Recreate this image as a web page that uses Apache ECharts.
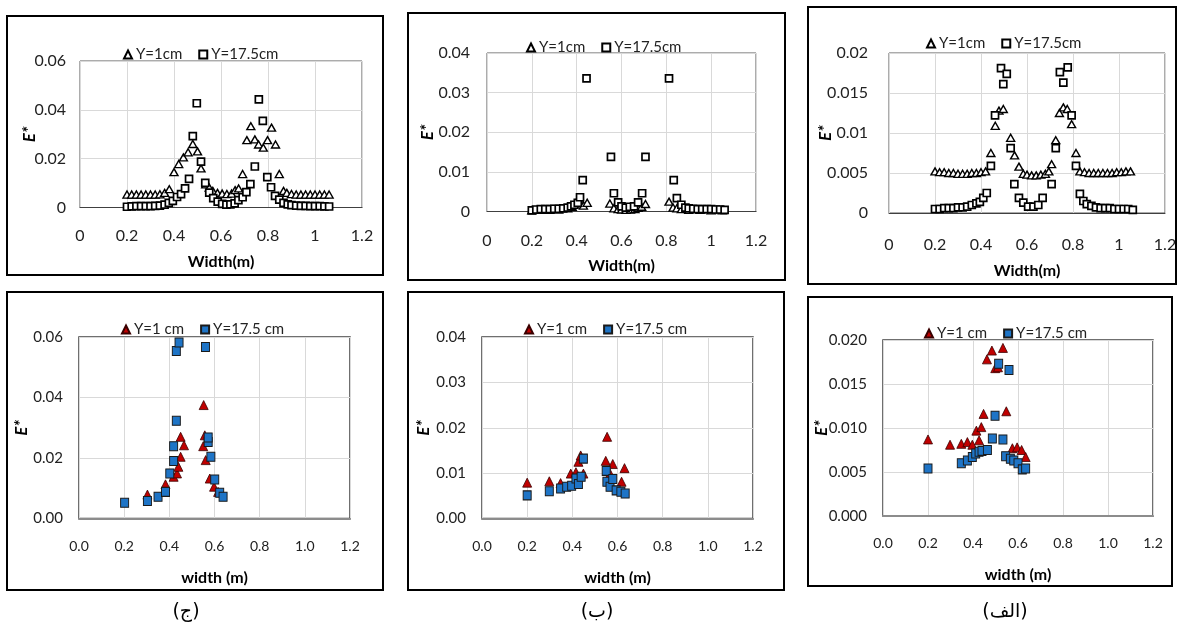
<!DOCTYPE html>
<html><head><meta charset="utf-8">
<script src="https://cdn.jsdelivr.net/npm/echarts@6/dist/echarts.min.js"></script>
<style>html,body{margin:0;padding:0;background:#fff}#c{width:1181px;height:632px}</style>
</head><body><div id="c"></div>
<script>
// ---------- tick labels ----------
const topXTicks = ['0','0.2','0.4','0.6','0.8','1','1.2'];
const botXTicks = ['0.0','0.2','0.4','0.6','0.8','1.0','1.2'];
const yTicksJTop = ['0','0.02','0.04','0.06'];
const yTicksBTop = ['0','0.01','0.02','0.03','0.04'];
const yTicksATop = ['0','0.005','0.01','0.015','0.02'];
const yTicksJBot = ['0.00','0.02','0.04','0.06'];
const yTicksBBot = ['0.00','0.01','0.02','0.03','0.04'];
const yTicksABot = ['0.000','0.005','0.010','0.015','0.020'];
const captions = ['(ج)','(ب)','(الف)'];

// ---------- data: [width (m), E*] ----------
const jTopY1 = [[0.20,0.0053],[0.22,0.0053],[0.24,0.0053],[0.26,0.0053],[0.28,0.0053],[0.30,0.0053],[0.32,0.0053],[0.34,0.0054],[0.36,0.006],[0.38,0.0075],[0.40,0.0145],[0.42,0.0178],[0.44,0.0205],[0.46,0.0226],[0.48,0.026],[0.50,0.023],[0.515,0.016],[0.535,0.0095],[0.55,0.0082],[0.565,0.0068],[0.585,0.006],[0.605,0.0057],[0.625,0.0055],[0.645,0.0057],[0.66,0.0071],[0.675,0.0078],[0.692,0.0137],[0.71,0.0276],[0.727,0.0333],[0.744,0.0279],[0.76,0.0258],[0.78,0.0245],[0.798,0.0276],[0.815,0.0327],[0.832,0.0258],[0.848,0.0137],[0.866,0.0068],[0.88,0.006],[0.90,0.0055],[0.92,0.0053],[0.94,0.0053],[0.96,0.0053],[0.98,0.0053],[1.00,0.0053],[1.02,0.0053],[1.04,0.0053],[1.06,0.0053]];
const jTopY17 = [[0.20,0.0003],[0.22,0.0005],[0.24,0.0006],[0.26,0.0006],[0.28,0.0006],[0.30,0.0006],[0.32,0.0007],[0.34,0.0008],[0.36,0.0012],[0.378,0.0019],[0.395,0.0027],[0.413,0.0043],[0.43,0.0055],[0.447,0.0078],[0.464,0.0117],[0.48,0.0292],[0.497,0.0427],[0.515,0.0188],[0.533,0.0101],[0.55,0.0061],[0.567,0.0038],[0.586,0.0024],[0.605,0.0015],[0.623,0.0012],[0.64,0.0013],[0.658,0.0017],[0.674,0.003],[0.692,0.0042],[0.708,0.0063],[0.725,0.0096],[0.744,0.0168],[0.761,0.0443],[0.778,0.0355],[0.797,0.0124],[0.813,0.0083],[0.83,0.0048],[0.848,0.0032],[0.866,0.0019],[0.884,0.0013],[0.90,0.001],[0.92,0.0008],[0.94,0.0007],[0.96,0.0007],[0.98,0.0006],[1.00,0.0006],[1.02,0.0006],[1.04,0.0005],[1.06,0.0004]];

const bTopY1 = [[0.20,0.0003],[0.24,0.0004],[0.28,0.0004],[0.32,0.0005],[0.36,0.0008],[0.38,0.0012],[0.397,0.0021],[0.415,0.003],[0.43,0.0015],[0.447,0.0022],[0.548,0.002],[0.566,0.0008],[0.585,0.0006],[0.60,0.0005],[0.62,0.0004],[0.64,0.0005],[0.66,0.0006],[0.674,0.0009],[0.69,0.0012],[0.707,0.0019],[0.812,0.0025],[0.83,0.001],[0.847,0.0008],[0.867,0.0006],[0.90,0.0004],[0.95,0.0004],[1.00,0.0003],[1.05,0.0003]];
const bTopY17 = [[0.20,0.0003],[0.22,0.0005],[0.24,0.0006],[0.26,0.0006],[0.28,0.0006],[0.30,0.0007],[0.32,0.0007],[0.34,0.0008],[0.36,0.001],[0.375,0.0013],[0.39,0.0017],[0.405,0.0022],[0.415,0.0036],[0.427,0.0079],[0.444,0.0336],[0.553,0.0138],[0.566,0.0046],[0.585,0.0023],[0.60,0.0013],[0.619,0.001],[0.637,0.0012],[0.656,0.0013],[0.674,0.0023],[0.692,0.0046],[0.707,0.0138],[0.812,0.0336],[0.833,0.0079],[0.847,0.0034],[0.867,0.0017],[0.885,0.001],[0.90,0.0008],[0.92,0.0007],[0.94,0.0006],[0.96,0.0006],[0.98,0.0006],[1.00,0.0006],[1.02,0.0005],[1.04,0.0005],[1.06,0.0004]];

const aTopY1 = [[0.20,0.0052],[0.22,0.0051],[0.24,0.0051],[0.26,0.005],[0.28,0.005],[0.30,0.0049],[0.32,0.0049],[0.34,0.0049],[0.36,0.005],[0.38,0.005],[0.40,0.0051],[0.42,0.0052],[0.443,0.0075],[0.462,0.0109],[0.478,0.0128],[0.497,0.013],[0.529,0.0094],[0.546,0.0072],[0.565,0.0058],[0.584,0.0049],[0.60,0.0048],[0.62,0.0047],[0.64,0.0047],[0.66,0.0048],[0.68,0.0049],[0.695,0.0052],[0.707,0.0061],[0.725,0.0091],[0.741,0.0125],[0.758,0.0132],[0.775,0.013],[0.794,0.0111],[0.813,0.0075],[0.83,0.0052],[0.85,0.0051],[0.87,0.005],[0.89,0.005],[0.91,0.005],[0.93,0.005],[0.95,0.005],[0.97,0.005],[0.99,0.0051],[1.01,0.0051],[1.03,0.0052],[1.05,0.0052]];
const aTopY17 = [[0.20,0.0005],[0.22,0.0005],[0.24,0.0006],[0.26,0.0006],[0.28,0.0006],[0.30,0.0007],[0.32,0.0007],[0.34,0.0008],[0.36,0.001],[0.38,0.0012],[0.395,0.0014],[0.41,0.0019],[0.425,0.0025],[0.443,0.0059],[0.461,0.0122],[0.487,0.0181],[0.497,0.0161],[0.512,0.0174],[0.529,0.0081],[0.545,0.0036],[0.565,0.0019],[0.584,0.0013],[0.605,0.0008],[0.628,0.0008],[0.649,0.001],[0.668,0.0019],[0.707,0.0036],[0.725,0.0081],[0.743,0.0176],[0.758,0.0163],[0.777,0.0182],[0.794,0.0122],[0.813,0.0059],[0.83,0.0024],[0.845,0.0015],[0.86,0.0011],[0.88,0.0009],[0.90,0.0007],[0.92,0.0006],[0.94,0.0006],[0.96,0.0006],[0.98,0.0005],[1.00,0.0005],[1.02,0.0005],[1.04,0.0005],[1.06,0.0004]];

const jBotY1 = [[0.303,0.0079],[0.383,0.0113],[0.419,0.0138],[0.434,0.0149],[0.44,0.0171],[0.45,0.0204],[0.45,0.027],[0.465,0.0242],[0.552,0.0375],[0.557,0.0275],[0.55,0.0239],[0.561,0.0193],[0.579,0.0132],[0.598,0.0105],[0.616,0.0088]];
const jBotY17 = [[0.202,0.0052],[0.303,0.0058],[0.35,0.0072],[0.383,0.0088],[0.402,0.0149],[0.419,0.019],[0.419,0.0239],[0.431,0.0323],[0.431,0.0554],[0.443,0.0582],[0.56,0.0567],[0.572,0.0253],[0.572,0.0268],[0.584,0.0204],[0.601,0.0129],[0.623,0.0085],[0.638,0.0072]];

const bBotY1 = [[0.20,0.0079],[0.298,0.0082],[0.348,0.0078],[0.393,0.0099],[0.416,0.0102],[0.427,0.0125],[0.437,0.0139],[0.449,0.0099],[0.548,0.0127],[0.554,0.018],[0.567,0.0099],[0.579,0.012],[0.618,0.0081],[0.631,0.0111]];
const bBotY17 = [[0.20,0.0051],[0.298,0.006],[0.348,0.0066],[0.375,0.007],[0.397,0.0072],[0.416,0.0088],[0.427,0.0076],[0.439,0.0092],[0.449,0.0132],[0.55,0.0105],[0.553,0.0081],[0.567,0.007],[0.579,0.0087],[0.594,0.0062],[0.615,0.0059],[0.634,0.0055]];

const aBotY1 = [[0.20,0.0087],[0.298,0.0081],[0.348,0.0082],[0.375,0.0084],[0.397,0.0081],[0.415,0.0097],[0.427,0.0086],[0.437,0.0101],[0.447,0.0116],[0.462,0.0178],[0.484,0.0188],[0.499,0.0168],[0.511,0.0169],[0.533,0.0191],[0.548,0.0119],[0.575,0.0077],[0.596,0.0078],[0.616,0.0075],[0.634,0.0067]];
const aBotY17 = [[0.20,0.0054],[0.348,0.006],[0.375,0.0063],[0.397,0.0067],[0.412,0.0071],[0.427,0.0073],[0.44,0.0074],[0.464,0.0075],[0.486,0.0088],[0.498,0.0114],[0.514,0.0173],[0.533,0.0087],[0.545,0.0068],[0.56,0.0166],[0.566,0.0065],[0.581,0.0063],[0.60,0.006],[0.619,0.0053],[0.634,0.0054]];

// ---------- layout ----------
const FONT = 'Lato, "Open Sans", sans-serif';
const panels = [
  {top:true, grid:{left:80,top:61,width:282,height:146.5}, ymax:0.06, yint:0.02, yt:yTicksJTop, d1:jTopY1, d17:jTopY17, lg:[118,42], lm:14, xm:20, xg:46, yg:42},
  {top:true, grid:{left:487,top:53,width:269,height:158.5}, ymax:0.04, yint:0.01, yt:yTicksBTop, d1:bTopY1, d17:bTopY17, lg:[521,35], lm:17, xm:21, xg:46, yg:51},
  {top:true, grid:{left:889,top:53,width:276,height:160}, ymax:0.02, yint:0.005, yt:yTicksATop, d1:aTopY1, d17:aTopY17, lg:[921,31], lm:21, xm:24, xg:50, yg:55},
  {top:false, grid:{left:79,top:337,width:271,height:181.5}, ymax:0.06, yint:0.02, yt:yTicksJBot, d1:jBotY1, d17:jBotY17, lg:[116,317], lm:16, xm:21, xg:51, yg:49},
  {top:false, grid:{left:482,top:337,width:271,height:181.5}, ymax:0.04, yint:0.01, yt:yTicksBBot, d1:bBotY1, d17:bBotY17, lg:[519,317], lm:16, xm:21, xg:51, yg:50},
  {top:false, grid:{left:883,top:340,width:270,height:176}, ymax:0.02, yint:0.005, yt:yTicksABot, d1:aBotY1, d17:aBotY17, lg:[919,321], lm:16, xm:20, xg:51, yg:53}
];

const grid=[], xAxis=[], yAxis=[], series=[], legend=[];
panels.forEach((p,i)=>{
  grid.push(Object.assign({show:true, borderColor: p.top?'#595959':'#404040', borderWidth: p.top?1:1.5, backgroundColor:'#fff'}, p.grid));
  const xt = p.top ? topXTicks : botXTicks;
  xAxis.push({type:'value', gridIndex:i, min:0, max:1.2, interval:0.2,
    name: p.top ? 'Width(m)' : 'width (m)', nameLocation:'middle', nameGap:p.xg, nameMoveOverlap:false,
    nameTextStyle:{fontFamily:FONT, fontWeight:'bold', fontSize:16, color:'#000'},
    axisLine:{show:true, lineStyle:{color: p.top?'#404040':'#8c8c8c', width: p.top?1:2}}, axisTick:{show:false},
    splitLine:{show:true, lineStyle:{color:'#d9d9d9', width:1}},
    axisLabel:{margin:p.xm, fontFamily:FONT, fontSize: p.top?16:14, color:'#222', showMinLabel:true, showMaxLabel:true,
      formatter:v=>xt[Math.round(v/0.2)]}});
  yAxis.push({type:'value', gridIndex:i, min:0, max:p.ymax, interval:p.yint,
    name:'E*', nameLocation:'middle', nameGap:p.yg, nameRotate:90, nameMoveOverlap:false,
    nameTextStyle:{fontFamily:FONT, fontWeight:'bold', fontStyle:'italic', fontSize:17, color:'#000'},
    axisLine:{show:false}, axisTick:{show:false},
    splitLine:{show:true, lineStyle:{color:'#d9d9d9', width:1}},
    axisLabel:{margin:p.lm, fontFamily:FONT, fontSize: p.top?16:15, color:'#222', showMinLabel:true, showMaxLabel:true,
      formatter:v=>p.yt[Math.round(v/p.yint)]}});
  const n1 = p.top ? 'Y=1cm' : 'Y=1 cm';
  const n17 = p.top ? 'Y=17.5cm' : 'Y=17.5 cm';
  if (p.top) {
    series.push({type:'scatter', name:n1, xAxisIndex:i, yAxisIndex:i, data:p.d1, symbol:'triangle', symbolSize:[8,7],
      itemStyle:{color:'#fff', borderColor:'#000', borderWidth:1.4, opacity:1}});
    series.push({type:'scatter', name:n17, xAxisIndex:i, yAxisIndex:i, data:p.d17, symbol:'rect', symbolSize:[7,7],
      itemStyle:{color:'#fff', borderColor:'#000', borderWidth:1.7, opacity:1}});
  } else {
    series.push({type:'scatter', name:n1, xAxisIndex:i, yAxisIndex:i, data:p.d1, symbol:'triangle', symbolSize:[9,9],
      itemStyle:{color:'#c00000', borderColor:'#3a0000', borderWidth:0.8, opacity:1}});
    series.push({type:'scatter', name:n17, xAxisIndex:i, yAxisIndex:i, data:p.d17, symbol:'rect', symbolSize:[8,9],
      itemStyle:{color:'#1e74c6', borderColor:'#1a1a1a', borderWidth:1, opacity:1}});
  }
  legend.push({data:[n1,n17], left:p.lg[0], top:p.lg[1], itemWidth:8, itemHeight:8, itemGap:16, selectedMode:false,
    textStyle:{fontFamily:FONT, fontSize:15, color:'#222', padding:[0,0,0,-1]}});
});

const frames = [[7,16,376,259],[408,13,377,267],[808,7,368,277],[7,292,376,298],[408,292,376,298],[808,297,364,289]];
const graphic = frames.map(f=>({type:'rect', shape:{x:f[0],y:f[1],width:f[2],height:f[3]}, style:{fill:'none', stroke:'#000', lineWidth:2}, z:-1}));
[[186,captions[0]],[597,captions[1]],[1005,captions[2]]].forEach(c=>{
  graphic.push({type:'text', x:c[0], y:612, style:{text:c[1], fontFamily:'"DejaVu Sans", sans-serif', fontSize:19, fill:'#000', align:'center', verticalAlign:'middle'}});
});

const chart = echarts.init(document.getElementById('c'), null, {renderer:'canvas'});
chart.setOption({backgroundColor:'#fff', animation:false, grid, xAxis, yAxis, series, legend, graphic});
</script></body></html>
